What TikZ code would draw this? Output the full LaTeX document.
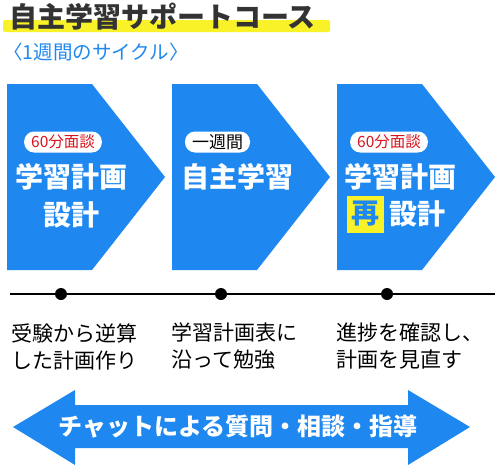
\documentclass[tikz,border=0pt]{standalone}
\usepackage{fontspec}
\newfontfamily\jp{Noto Sans CJK JP}
\usetikzlibrary{positioning}
\definecolor{cycleblue}{RGB}{30,136,240}
\definecolor{marker}{RGB}{250,242,40}
\definecolor{talkred}{RGB}{215,20,30}
\definecolor{titlegray}{RGB}{51,51,51}
\tikzset{
    pill/.style = {fill=white, rounded corners=10pt, inner xsep=7pt, inner ysep=0pt, minimum height=21pt, font=\jp\fontsize{15.5}{15.5}\selectfont},
    big/.style = {text=white, inner sep=0pt, font=\jp\bfseries\fontsize{28}{28}\selectfont},
    note/.style = {anchor=west, align=left, inner sep=0pt, font=\jp\fontsize{21}{27}\selectfont},
    dot/.style = {circle, fill=black, inner sep=0pt, minimum size=12pt},
    rebox/.style = {fill=marker, text=cycleblue, inner sep=0pt, minimum size=37pt, font=\jp\bfseries\fontsize{28}{28}\selectfont}
}
\begin{document}
\begin{tikzpicture}[x=1pt, y=-1pt]
    \useasboundingbox (0,0) rectangle (500,471);
    \fill[marker, rounded corners=2pt] (3,20) rectangle (330,32);
    \path   node[anchor=west, inner sep=0pt, text=titlegray, font=\jp\bfseries\fontsize{28}{28}\selectfont] (title) at (9,17) {自主学習サポートコース}
            node[anchor=west, inner sep=0pt, text=cycleblue, font=\jp\fontsize{19.5}{19.5}\selectfont] (cycle) at (3,52) {〈1週間のサイクル〉};
    \foreach \x in {7,172,337}
        \fill[cycleblue] (\x,84) -- ++(85,0) -- ++(73,93) -- ++(-73,93) -- ++(-85,0) -- cycle;
    \path   node[pill, text=talkred] (talkA) at (63,142) {60分面談}
            node[big] (planA) at (71.5,177) {学習計画}
            node[big] (designA) at (71.5,215) {設計}
            node[pill, font=\jp\fontsize{17}{17}\selectfont] (week) at (217.5,142) {一週間}
            node[big] (self) at (237.5,177) {自主学習}
            node[pill, text=talkred] (talkC) at (389,142) {60分面談}
            node[big] (planC) at (400,177) {学習計画}
            node[big] (designC) at (417.5,214) {設計};
    \node[rebox, left=5pt of designC] (again) {再};
    \path   coordinate (lineL) at (10,294)
            coordinate (lineR) at (495,294);
    \draw[line width=2.5pt] (lineL) -- (lineR);
    \path   node[dot] (dotA) at (61,294) {}
            node[dot] (dotB) at (221,294) {}
            node[dot] (dotC) at (387,294) {};
    \path   node[note] (noteA) at (11,346.5) {受験から逆算\\した計画作り}
            node[note] (noteB) at (171,346.5) {学習計画表に\\沿って勉強}
            node[note] (noteC) at (336,346.5) {進捗を確認し、\\計画を見直す};
    \fill[cycleblue] (13,427) -- (75,390) -- (75,405) -- (408,405) -- (408,390) -- (470,427)
        -- (408,465) -- (408,448) -- (75,448) -- (75,465) -- cycle;
    \node[text=white, inner sep=0pt, font=\jp\bfseries\fontsize{24}{24}\selectfont] (chat) at (238,427) {チャットによる質問・相談・指導};
\end{tikzpicture}
\end{document}
